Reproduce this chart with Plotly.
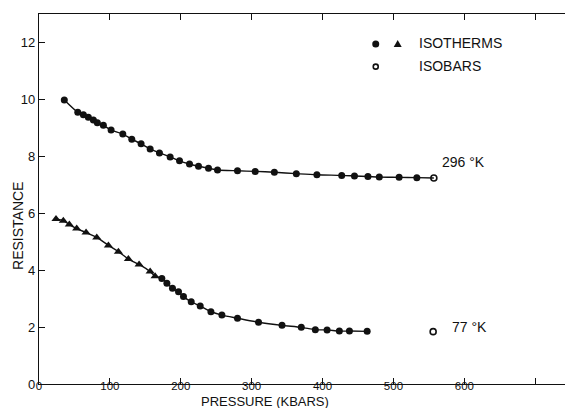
import plotly.graph_objects as go

# 296 K isotherm (filled circles) and the 296 K isobar point (open circle)
p296 = [35.7, 54.7, 62.6, 69.6, 76.7, 82.3, 90.8, 101.7, 118.2, 130.9, 144.0, 156.8,
        169.9, 185.0, 198.2, 212.3, 225.0, 239.1, 251.8, 280.0, 305.0, 332.0, 363.0,
        392.0, 427.0, 445.0, 464.0, 480.0, 508.0, 533.0]
r296 = [9.98, 9.55, 9.46, 9.37, 9.28, 9.18, 9.09, 8.92, 8.78, 8.60, 8.44, 8.26,
        8.12, 7.98, 7.84, 7.73, 7.65, 7.58, 7.52, 7.49, 7.47, 7.44, 7.39,
        7.35, 7.33, 7.31, 7.29, 7.27, 7.26, 7.25]
p296_isobar = [557.0]
r296_isobar = [7.24]

# 77 K isotherm: triangles at low pressure, filled circles above
p77_tri = [24.0, 34.3, 42.8, 53.2, 66.4, 81.5, 97.9, 112.0, 126.1, 141.2, 156.8, 163.8]
r77_tri = [5.80, 5.74, 5.60, 5.46, 5.32, 5.15, 4.87, 4.65, 4.39, 4.20, 3.95, 3.79]
p77_dot = [173.3, 180.4, 188.3, 196.8, 203.8, 214.7, 227.4, 242.5, 258.0, 280.0,
           309.7, 342.8, 370.0, 389.8, 406.4, 423.7, 437.9, 462.9]
r77_dot = [3.71, 3.54, 3.36, 3.24, 3.07, 2.89, 2.74, 2.54, 2.42, 2.31,
           2.17, 2.06, 1.99, 1.91, 1.90, 1.86, 1.86, 1.85]
p77_isobar = [556.0]
r77_isobar = [1.84]

x_ticks = [0, 100, 200, 300, 400, 500, 600, 700]
x_ticktext = ["0", "100", "200", "300", "400", "500", "600", ""]
y_ticks = [0, 2, 4, 6, 8, 10, 12]

FONT = "Liberation Sans, Arial, sans-serif"
INK = "#111111"

fig = go.Figure()

# fitted curves through the measurements
fig.add_trace(go.Scatter(
    x=p296 + p296_isobar, y=r296 + r296_isobar, mode="lines",
    line=dict(color=INK, width=1.4, shape="spline", smoothing=0.8),
    hoverinfo="skip"))
fig.add_trace(go.Scatter(
    x=p77_tri + p77_dot, y=r77_tri + r77_dot, mode="lines",
    line=dict(color=INK, width=1.4, shape="spline", smoothing=0.8),
    hoverinfo="skip"))

# data points
fig.add_trace(go.Scatter(x=p296, y=r296, mode="markers",
                         marker=dict(symbol="circle", size=7, color=INK)))
fig.add_trace(go.Scatter(x=p77_dot, y=r77_dot, mode="markers",
                         marker=dict(symbol="circle", size=7, color=INK)))
fig.add_trace(go.Scatter(x=p77_tri, y=r77_tri, mode="markers",
                         marker=dict(symbol="triangle-up", size=8, color=INK)))
fig.add_trace(go.Scatter(x=p296_isobar + p77_isobar, y=r296_isobar + r77_isobar,
                         mode="markers",
                         marker=dict(symbol="circle-open", size=6, color=INK,
                                     line=dict(width=1.6, color=INK))))

# key symbols
shapes = [
    dict(type="circle", xref="x", yref="y", xsizemode="pixel", ysizemode="pixel",
         xanchor=475, yanchor=11.95, x0=-3.5, x1=3.5, y0=-3.5, y1=3.5,
         fillcolor=INK, line=dict(color=INK, width=0)),
    dict(type="path", xref="x", yref="y", xsizemode="pixel", ysizemode="pixel",
         xanchor=506, yanchor=11.95, path="M -4 -3 L 4 -3 L 0 4 Z",
         fillcolor=INK, line=dict(color=INK, width=0)),
    dict(type="circle", xref="x", yref="y", xsizemode="pixel", ysizemode="pixel",
         xanchor=475, yanchor=11.15, x0=-2.5, x1=2.5, y0=-2.5, y1=2.5,
         fillcolor="white", line=dict(color=INK, width=1.6)),
]

annotations = [
    dict(x=533, y=11.97, xref="x", yref="y", text="ISOTHERMS", showarrow=False,
         xanchor="left", yanchor="middle", font=dict(size=14, color=INK, family=FONT)),
    dict(x=533, y=11.17, xref="x", yref="y", text="ISOBARS", showarrow=False,
         xanchor="left", yanchor="middle", font=dict(size=14, color=INK, family=FONT)),
    dict(x=566, y=7.8, xref="x", yref="y", text="296 °K", showarrow=False,
         xanchor="left", yanchor="middle", font=dict(size=14, color=INK, family=FONT)),
    dict(x=580, y=2.0, xref="x", yref="y", text="77 °K", showarrow=False,
         xanchor="left", yanchor="middle", font=dict(size=14, color=INK, family=FONT)),
    dict(x=319, y=-0.046, xref="x", yref="paper", text="PRESSURE (KBARS)",
         showarrow=False, xanchor="center", yanchor="middle",
         font=dict(size=13, color=INK, family=FONT)),
    dict(x=-0.04, y=0.427, xref="paper", yref="paper", text="RESISTANCE",
         showarrow=False, textangle=-90, xanchor="center", yanchor="middle",
         font=dict(size=14, color=INK, family=FONT)),
]

fig.update_layout(
    width=565, height=408,
    margin=dict(l=39, r=0, t=14, b=24),
    paper_bgcolor="white", plot_bgcolor="white",
    showlegend=False,
    shapes=shapes, annotations=annotations,
    font=dict(family=FONT, color=INK, size=13),
)
fig.update_xaxes(
    range=[0, 742], tickvals=x_ticks, ticktext=x_ticktext,
    ticks="inside", ticklen=6, tickwidth=1.2, tickcolor=INK,
    showline=True, linecolor=INK, linewidth=1.4, mirror="ticks",
    showgrid=False, zeroline=False, ticklabelstandoff=-9,
    tickfont=dict(size=11.5, color=INK, family=FONT),
)
fig.update_yaxes(
    range=[0, 13], tickvals=y_ticks,
    ticks="inside", ticklen=6, tickwidth=1.2, tickcolor=INK,
    showline=True, linecolor=INK, linewidth=1.4, mirror=False,
    showgrid=False, zeroline=False, ticklabelstandoff=0,
    tickfont=dict(size=13, color=INK, family=FONT),
)

fig.write_html("out.html")
